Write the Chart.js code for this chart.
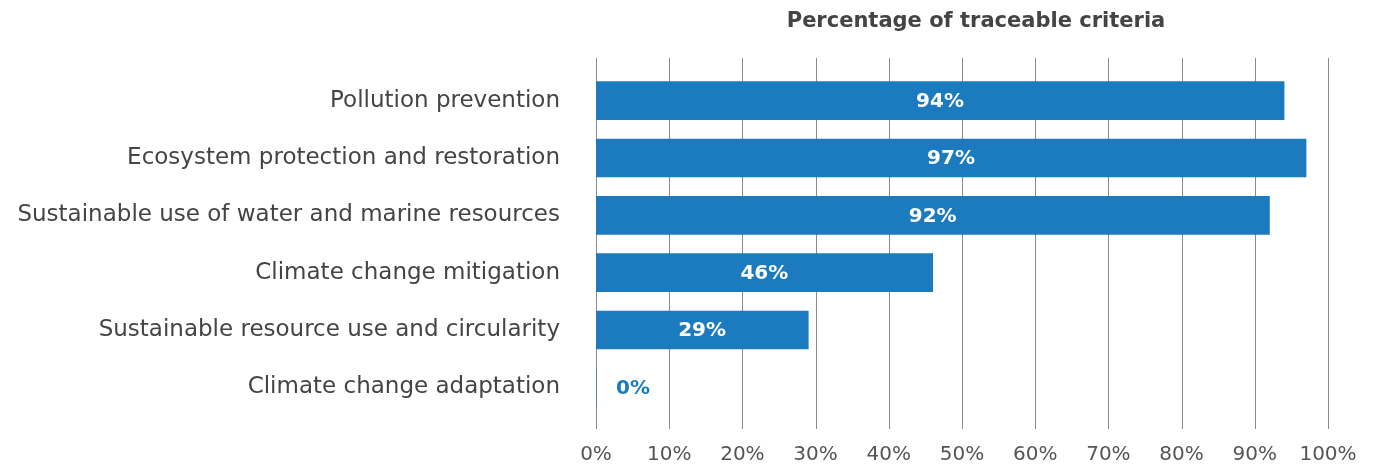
<!DOCTYPE html>
<html>
<head>
<meta charset="utf-8">
<script src="https://cdn.jsdelivr.net/npm/chart.js@4"></script>
<style>
html,body{margin:0;padding:0;background:#fff;}
#wrap{width:1376px;height:468px;position:relative;}
</style>
</head>
<body>
<div id="wrap"><canvas id="c" width="1376" height="468"></canvas></div>
<script>
const categories = [
  "Pollution prevention",
  "Ecosystem protection and restoration",
  "Sustainable use of water and marine resources",
  "Climate change mitigation",
  "Sustainable resource use and circularity",
  "Climate change adaptation"
];
const values = [94, 97, 92, 46, 29, 0];
const xTicks = [0, 10, 20, 30, 40, 50, 60, 70, 80, 90, 100];
const chartTitle = "Percentage of traceable criteria";

const FONT = "'DejaVu Sans', sans-serif";
const BLUE = "#1B7BBE";

const gridPlugin = {
  id: 'gridExt',
  beforeDatasetsDraw(chart) {
    const {ctx, chartArea, scales} = chart;
    ctx.save();
    ctx.strokeStyle = '#8a8a8a';
    ctx.lineWidth = 1;
    xTicks.forEach(v => {
      const x = Math.round(scales.x.getPixelForValue(v)) + 0.5;
      ctx.beginPath();
      ctx.moveTo(x, chartArea.top - 14);
      ctx.lineTo(x, chartArea.bottom + 13);
      ctx.stroke();
    });
    ctx.restore();
  },
  afterDraw(chart) {
    const {ctx, chartArea} = chart;
    ctx.save();
    ctx.font = "bold 21px " + FONT;
    ctx.fillStyle = '#444';
    ctx.textAlign = 'center';
    ctx.textBaseline = 'middle';
    ctx.fillText(chartTitle, (chartArea.left + chartArea.right) / 2 + 14, 22);
    const meta = chart.getDatasetMeta(0);
    ctx.font = "bold 20px " + FONT;
    meta.data.forEach((bar, i) => {
      const v = values[i];
      const txt = v + '%';
      if (v > 5) {
        ctx.fillStyle = '#fff';
        ctx.textAlign = 'center';
        ctx.fillText(txt, (bar.base + bar.x) / 2, bar.y + 1);
      } else {
        ctx.fillStyle = BLUE;
        ctx.textAlign = 'left';
        ctx.fillText(txt, bar.x + 20, bar.y + 1);
      }
    });
    ctx.restore();
  }
};

new Chart(document.getElementById('c'), {
  type: 'bar',
  data: {
    labels: categories,
    datasets: [{
      data: values,
      backgroundColor: BLUE,
      borderWidth: 0,
      barThickness: 38
    }]
  },
  options: {
    indexAxis: 'y',
    responsive: false,
    animation: false,
    devicePixelRatio: 1,
    layout: { padding: { top: 72, right: 48, bottom: 0, left: 0 } },
    plugins: { legend: { display: false }, tooltip: { enabled: false }, title: { display: false } },
    scales: {
      x: {
        min: 0, max: 100,
        grid: { display: false, drawTicks: false },
        border: { display: false },
        afterBuildTicks(scale) { scale.ticks = xTicks.map(v => ({ value: v })); },
        afterFit(scale) { scale.height = 52; scale.paddingRight = 0; scale.paddingLeft = 0; },
        ticks: {
          padding: 27,
          color: '#555',
          font: { family: FONT, size: 20 },
          callback: v => v + '%'
        }
      },
      y: {
        grid: { display: false, drawTicks: false },
        border: { display: false },
        afterFit(scale) { scale.width = 596; },
        ticks: {
          padding: 36,
          color: '#444',
          font: { family: FONT, size: 23 }
        }
      }
    }
  },
  plugins: [gridPlugin]
});
</script>
</body>
</html>
